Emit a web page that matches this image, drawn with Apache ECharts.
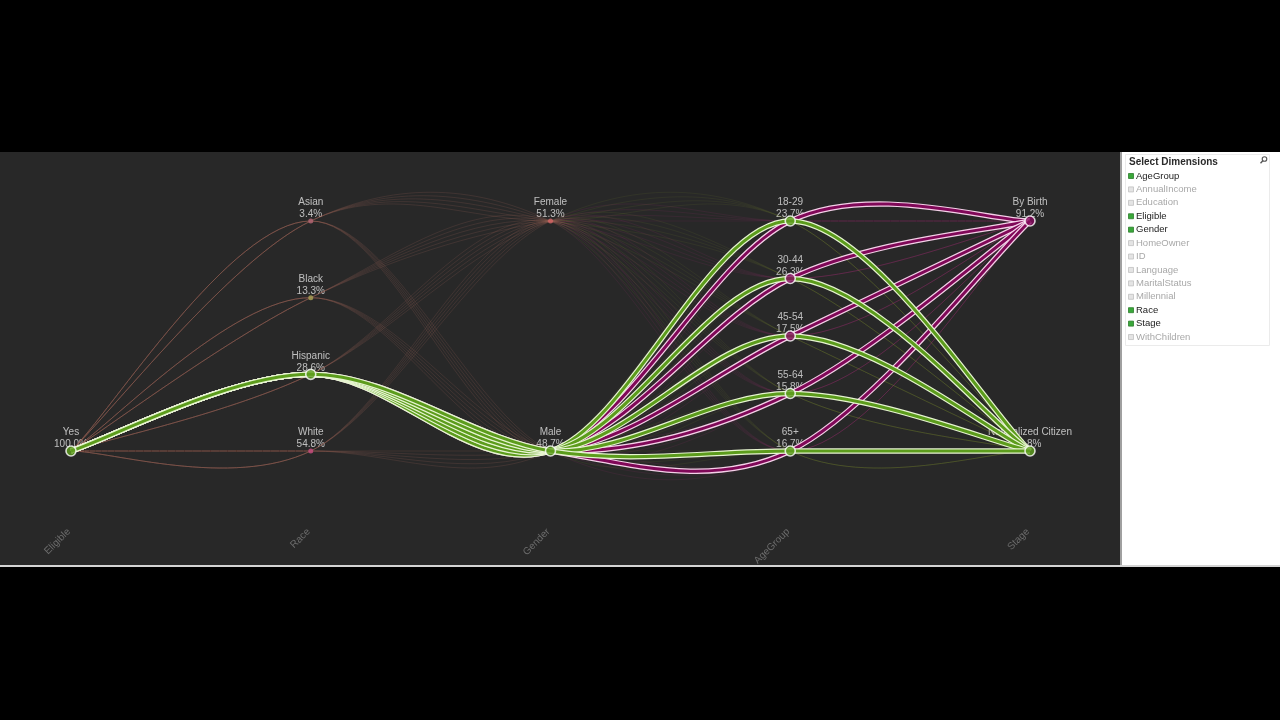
<!DOCTYPE html>
<html>
<head>
<meta charset="utf-8">
<script src="https://cdn.jsdelivr.net/npm/echarts@6/dist/echarts.min.js"></script>
<style>
html,body{margin:0;padding:0;background:#000;}
#chart{width:1280px;height:720px;}
</style>
</head>
<body>
<div id="chart"></div>
<script>
// ---------- data ----------
const dimensions = ['Eligible', 'Race', 'Gender', 'AgeGroup', 'Stage'];
const eligibleCategories = ['Yes'];
const eligiblePercents = [100.0];
const raceCategories = ['Asian', 'Black', 'Hispanic', 'White'];
const racePercents = [3.4, 13.3, 28.6, 54.8];
const genderCategories = ['Female', 'Male'];
const genderPercents = [51.3, 48.7];
const ageCategories = ['18-29', '30-44', '45-54', '55-64', '65+'];
const agePercents = [23.7, 26.3, 17.5, 15.8, 16.7];
const stageCategories = ['By Birth', 'Naturalized Citizen'];
const stagePercents = [91.2, 8.8];
const selectedRace = 'Hispanic';
const selectedGender = 'Male';
const panelTitle = 'Select Dimensions';
const panelFields = ['AgeGroup', 'AnnualIncome', 'Education', 'Eligible', 'Gender', 'HomeOwner', 'ID',
  'Language', 'MaritalStatus', 'Millennial', 'Race', 'Stage', 'WithChildren'];
const panelChecked = [true, false, false, true, true, false, false, false, false, false, true, true, false];

// ---------- styles ----------
const stageCore = ['#800858', '#5c9c1c'];
const stageOutline = ['#f4d0e8', '#e6f4d0'];
const stageFaint = ['#c43088', '#8c9c34'];
const nodeColors = {
  'Yes': '#5e9e1e', 'Asian': '#b06472', 'Black': '#a49c52', 'Hispanic': '#5e9e1e', 'White': '#c44c7c',
  'Female': '#d06464', 'Male': '#5e9e1e', '18-29': '#5e9e1e', '30-44': '#850a5e', '45-54': '#850a5e',
  '55-64': '#5e9e1e', '65+': '#5e9e1e', 'By Birth': '#850a5e', 'Naturalized Citizen': '#5e9e1e'
};
const FONT = '"Liberation Sans", Arial, sans-serif';

// ---------- derived ----------
const dimCats = [eligibleCategories, raceCategories, genderCategories, ageCategories, stageCategories];
const dimPcts = [eligiblePercents, racePercents, genderPercents, agePercents, stagePercents];
function pos(d, i) {
  const n = dimCats[d].length;
  return n === 1 ? 0 : 1 - i / (n - 1);
}

const bgPaths = [], hlPaths = [];
for (let r = 0; r < raceCategories.length; r++)
  for (let g = 0; g < genderCategories.length; g++)
    for (let a = 0; a < ageCategories.length; a++)
      for (let s = 0; s < stageCategories.length; s++) {
        const p = { idx: [0, r, g, a, s], stage: s };
        if (raceCategories[r] === selectedRace && genderCategories[g] === selectedGender) {
          p.hl = true; hlPaths.push(p);
        } else bgPaths.push(p);
      }
hlPaths.sort((p, q) => p.stage - q.stage);
const paths = bgPaths.concat(hlPaths);

const hlNodes = new Set();
hlPaths.forEach(p => p.idx.forEach((ci, d) => hlNodes.add(dimCats[d][ci])));

const labelData = [], nodeData = [];
dimCats.forEach((cats, d) => cats.forEach((name, i) => {
  labelData.push({ value: [d, pos(d, i)], name: name, pct: dimPcts[d][i] });
  const hl = hlNodes.has(name);
  nodeData.push({
    value: [d, pos(d, i)], name: name,
    symbolSize: hl ? 10 : 5,
    itemStyle: hl ? { color: nodeColors[name], borderColor: '#ffffff', borderWidth: 1.6 }
                  : { color: nodeColors[name], opacity: 0.85 }
  });
}));

function renderPath(params, api) {
  const p = paths[api.value(2)];
  const pts = p.idx.map((ci, d) => api.coord([d, pos(d, ci)]));
  const n = pts.length;
  const tan = pts.map((pt, i) => {
    const a = pts[Math.max(i - 1, 0)], b = pts[Math.min(i + 1, n - 1)];
    return [(b[0] - a[0]) / 2, (b[1] - a[1]) / 2];
  });
  let dStr = 'M' + pts[0][0] + ' ' + pts[0][1];
  for (let i = 0; i < n - 1; i++) {
    dStr += ' C' + (pts[i][0] + tan[i][0] / 3) + ' ' + (pts[i][1] + tan[i][1] / 3) + ' ' +
      (pts[i + 1][0] - tan[i + 1][0] / 3) + ' ' + (pts[i + 1][1] - tan[i + 1][1] / 3) + ' ' +
      pts[i + 1][0] + ' ' + pts[i + 1][1];
  }
  if (!p.hl) {
    return { type: 'path', shape: { pathData: dStr },
      style: { fill: 'none', stroke: stageFaint[p.stage], lineWidth: 1, opacity: 0.1 } };
  }
  return { type: 'group', children: [
    { type: 'path', shape: { pathData: dStr },
      style: { fill: 'none', stroke: stageOutline[p.stage], lineWidth: 5.4 } },
    { type: 'path', shape: { pathData: dStr },
      style: { fill: 'none', stroke: stageCore[p.stage], lineWidth: 3 } }
  ] };
}

// ---------- panel graphics ----------
const graphics = [
  { type: 'rect', silent: true, shape: { x: 0, y: 152, width: 1120, height: 415 }, style: { fill: '#282828' } },
  { type: 'rect', silent: true, shape: { x: 1120, y: 152, width: 160, height: 415 }, style: { fill: '#ffffff' } },
  { type: 'rect', silent: true, shape: { x: 1120, y: 152, width: 2, height: 415 }, style: { fill: '#a0a0a0' } },
  { type: 'rect', silent: true, shape: { x: 0, y: 565, width: 1280, height: 2 }, style: { fill: '#d4d4d4' } },
  { type: 'rect', silent: true, shape: { x: 1125.5, y: 154.5, width: 144, height: 191 }, style: { fill: 'none', stroke: '#ebebeb', lineWidth: 1 } },
  { type: 'text', silent: true, x: 1129, y: 162,
    style: { text: panelTitle, font: 'bold 10px ' + FONT, fill: '#2a2a2a', align: 'left', textAlign: 'left', verticalAlign: 'middle', textVerticalAlign: 'middle' } },
  { type: 'circle', silent: true, shape: { cx: 1264.5, cy: 159, r: 2.3 }, style: { fill: 'none', stroke: '#555', lineWidth: 1.1 } },
  { type: 'line', silent: true, shape: { x1: 1262.8, y1: 160.8, x2: 1260.5, y2: 163.2 }, style: { stroke: '#555', lineWidth: 1.4 } }
];
panelFields.forEach((f, i) => {
  const y = 176 + i * 13.42;
  const on = panelChecked[i];
  graphics.push({ type: 'rect', silent: true, shape: { x: 1128.5, y: y - 2.5, width: 5, height: 5 },
    style: on ? { fill: '#3aa83a', stroke: '#2c7d2c', lineWidth: 0.8 } : { fill: '#e4e4e4', stroke: '#c0c0c0', lineWidth: 0.8 } });
  graphics.push({ type: 'text', silent: true, x: 1136, y: y,
    style: { text: f, font: '9.5px ' + FONT, fill: on ? '#222222' : '#a8a8a8', align: 'left', textAlign: 'left', verticalAlign: 'middle', textVerticalAlign: 'middle' } });
});

// ---------- chart ----------
const chart = echarts.init(document.getElementById('chart'), null, { renderer: 'canvas' });
chart.setOption({
  backgroundColor: '#000000',
  animation: false,
  graphic: { elements: graphics },
  grid: { left: 71, right: 250, top: 221, bottom: 269, containLabel: false, outerBoundsMode: 'none' },
  xAxis: {
    type: 'value', min: 0, max: dimensions.length - 1, interval: 1,
    axisLine: { show: false }, axisTick: { show: false }, splitLine: { show: false },
    axisLabel: {
      rotate: 45, margin: 77, color: '#6c6c6c', fontSize: 10, fontFamily: FONT,
      padding: [0, 3, 0, 0],
      formatter: v => dimensions[v] || ''
    }
  },
  yAxis: { type: 'value', min: 0, max: 1, show: false },
  series: [
    {
      type: 'scatter', z: 1, silent: true, symbolSize: 1, itemStyle: { color: 'rgba(0,0,0,0)' },
      data: labelData,
      label: {
        show: true, position: 'top', distance: 0, color: '#e2e2e2', fontSize: 10, lineHeight: 12,
        fontFamily: FONT, align: 'center',
        formatter: p => p.name + '\n' + p.data.pct.toFixed(1) + '%'
      }
    },
    {
      type: 'custom', z: 3, silent: true, coordinateSystem: 'cartesian2d',
      encode: { x: 0, y: 1 },
      data: paths.map((p, i) => [0, 0, i]),
      renderItem: renderPath
    },
    {
      type: 'scatter', z: 5, silent: true, symbol: 'circle',
      data: nodeData
    }
  ]
});
</script>
</body>
</html>
